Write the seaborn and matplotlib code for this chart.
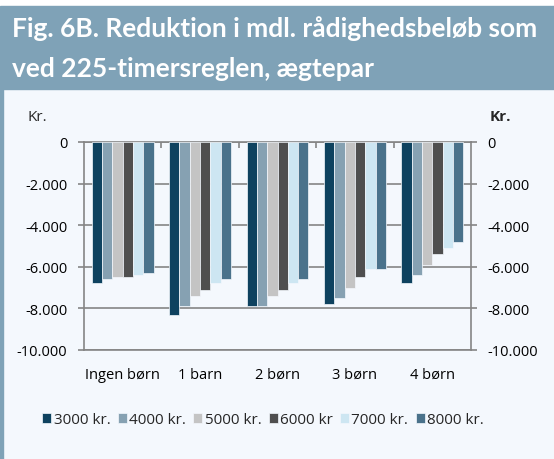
import numpy as np
import pandas as pd
import seaborn as sns
import matplotlib.pyplot as plt
from matplotlib.patches import Rectangle
from matplotlib.ticker import FuncFormatter, FixedLocator

# data (kr. per month)
categories = ['Ingen børn', '1 barn', '2 børn', '3 børn', '4 børn']
series = ['3000 kr.', '4000 kr.', '5000 kr.', '6000 kr', '7000 kr.', '8000 kr.']
v3000 = [-6800, -8300, -7900, -7800, -6800]
v4000 = [-6600, -7900, -7900, -7500, -6400]
v5000 = [-6500, -7400, -7400, -7000, -5900]
v6000 = [-6500, -7100, -7100, -6500, -5400]
v7000 = [-6400, -6800, -6800, -6100, -5100]
v8000 = [-6300, -6600, -6600, -6100, -4800]
colors = ['#00466d', '#7fa3b9', '#c4c4c4', '#4f4f4f', '#c7e8f8', '#3f7596']

rows = []
for name, vals in zip(series, [v3000, v4000, v5000, v6000, v7000, v8000]):
    for cat, v in zip(categories, vals):
        rows.append({'kategori': cat, 'serie': name, 'kr': v})
df = pd.DataFrame(rows)

sns.set_style('white')
plt.rcParams['font.family'] = ['Open Sans', 'DejaVu Sans']

W, H = 554, 460
fig = plt.figure(figsize=(W / 100, H / 100), dpi=100, facecolor='white')

band = '#7fa2b7'
panel = '#f4f8fd'
# background panel, title band and left border
fig.patches.append(Rectangle((0, 0), 1, 1 - 90 / H, transform=fig.transFigure, color=panel, zorder=-10))
fig.patches.append(Rectangle((0, 1 - 90 / H), 1, 83 / H, transform=fig.transFigure, color=band, zorder=-10))
fig.patches.append(Rectangle((0, 0), 3 / W, 1 - 90 / H, transform=fig.transFigure, color=band, zorder=-10))

fig.text(12 / W, 1 - 37 / H, 'Fig. 6B. Reduktion i mdl. rådighedsbeløb som',
         color='white', fontsize=19, fontweight='bold', family=['Lato', 'DejaVu Sans'],
         va='baseline', ha='left')
fig.text(12 / W, 1 - 77 / H, 'ved 225-timersreglen, ægtepar',
         color='white', fontsize=19, fontweight='bold', family=['Lato', 'DejaVu Sans'],
         va='baseline', ha='left')

ax = fig.add_axes([84 / W, 1 - 351 / H, (471 - 84) / W, (351 - 143) / H])
ax.set_facecolor(panel)

sns.barplot(data=df, x='kategori', y='kr', hue='serie', palette=colors,
            order=categories, hue_order=series, width=0.8,
            edgecolor=panel, linewidth=0.5, ax=ax, legend=True, zorder=3)

grid_c = '#858585'
ax.set_ylim(-10000, 0)
ax.set_xlim(-0.5, 4.5)
ax.set_yticks(np.arange(-10000, 1, 2000))
ax.yaxis.set_major_formatter(FuncFormatter(lambda v, p: f'{int(v):,}'.replace(',', '.')))
ax.grid(axis='y', color=grid_c, linewidth=1.2, zorder=0)
ax.set_axisbelow(True)
for s in ax.spines.values():
    s.set_color(grid_c)
    s.set_linewidth(1.2)

ax.tick_params(axis='y', which='major', left=True, right=True, labelleft=True, labelright=True,
               direction='out', length=4, width=1.2, color=grid_c, labelsize=10.5,
               pad=8, labelcolor='black')
ax.tick_params(axis='x', which='major', length=0, pad=12, labelsize=10.5, labelcolor='black')
ax.xaxis.set_minor_locator(FixedLocator([0.5, 1.5, 2.5, 3.5]))
ax.tick_params(axis='x', which='minor', bottom=False, top=True, direction='in',
               length=4, width=1.2, color=grid_c)
ax.set_xlabel('')
ax.set_ylabel('')

fig.text(47 / W, 1 - 121 / H, 'Kr.', fontsize=11, ha='right', va='baseline')
fig.text(490 / W, 1 - 121 / H, 'Kr.', fontsize=11, fontweight='bold', ha='left', va='baseline')

handles, labels = ax.get_legend_handles_labels()
ax.get_legend().remove()
fig.legend(handles, labels, loc='center', bbox_to_anchor=(263 / W, 1 - 421 / H), ncol=6,
           frameon=False, fontsize=11, handlelength=0.6, handleheight=0.6,
           handletextpad=0.15, columnspacing=0.47)

fig.savefig('out.png', dpi=100, facecolor='white')
